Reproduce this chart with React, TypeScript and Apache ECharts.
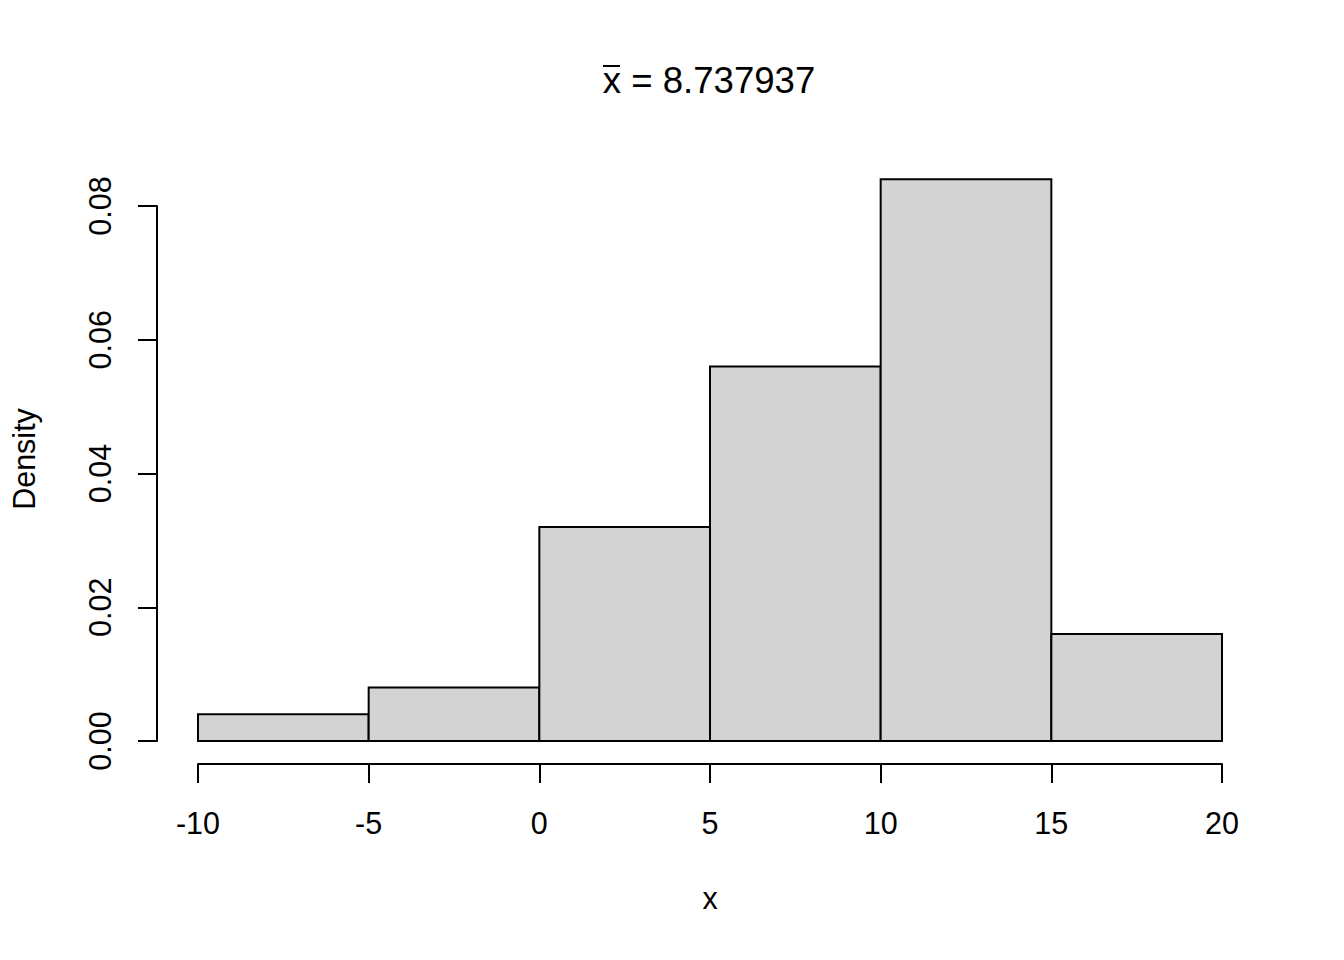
import React, { useEffect, useRef } from "react";
import * as echarts from "echarts";

const binEdges = [-10, -5, 0, 5, 10, 15, 20];
const densities = [0.004, 0.008, 0.032, 0.056, 0.084, 0.016];
const titleText = "x = 8.737937";
const xName = "x";
const yName = "Density";

const FONT = "Liberation Sans, Arial, sans-serif";

export default function App() {
  const ref = useRef<HTMLDivElement>(null);
  useEffect(() => {
    if (!ref.current) return;
    const chart = echarts.init(ref.current, undefined, { renderer: "svg" });
    const data = densities.map((d, i) => [binEdges[i], binEdges[i + 1], d]);
    chart.setOption({
      animation: false,
      backgroundColor: "#ffffff",
      textStyle: { fontFamily: FONT },
      grid: { left: 198, right: 122, top: 206, bottom: 219, containLabel: false },
      xAxis: {
        type: "value",
        min: -10,
        max: 20,
        interval: 5,
        offset: 23,
        axisLine: { show: true, onZero: false, lineStyle: { color: "#000", width: 2 } },
        axisTick: { show: true, length: 19, inside: false, lineStyle: { color: "#000", width: 2 } },
        axisLabel: { color: "#000", fontSize: 30.5, fontFamily: FONT, margin: 43 },
        splitLine: { show: false },
      },
      yAxis: {
        type: "value",
        min: 0,
        max: 0.08,
        interval: 0.02,
        offset: 41,
        axisLine: { show: true, onZero: false, lineStyle: { color: "#000", width: 2 } },
        axisTick: { show: true, length: 19, inside: false, lineStyle: { color: "#000", width: 2 } },
        axisLabel: {
          color: "#000",
          fontSize: 30.5,
          fontFamily: FONT,
          rotate: 90,
          margin: 42,
          formatter: (v: number) => v.toFixed(2),
        },
        splitLine: { show: false },
      },
      graphic: [
        {
          type: "text",
          x: 709,
          y: 80,
          style: {
            text: titleText,
            fontSize: 36.6,
            fontFamily: FONT,
            fill: "#000",
            textAlign: "center",
            textVerticalAlign: "middle",
          },
        },
        {
          type: "line",
          shape: { x1: 603, y1: 66, x2: 620, y2: 66 },
          style: { stroke: "#000", lineWidth: 2 },
        },
        {
          type: "text",
          x: 710,
          y: 898,
          style: {
            text: xName,
            fontSize: 30.5,
            fontFamily: FONT,
            fill: "#000",
            textAlign: "center",
            textVerticalAlign: "middle",
          },
        },
        {
          type: "text",
          x: 24,
          y: 459,
          rotation: Math.PI / 2,
          style: {
            text: yName,
            fontSize: 30.5,
            fontFamily: FONT,
            fill: "#000",
            textAlign: "center",
            textVerticalAlign: "middle",
          },
        },
      ],
      series: [
        {
          type: "custom",
          clip: false,
          data,
          encode: { x: [0, 1], y: 2 },
          renderItem: (params: any, api: any) => {
            const p0 = api.coord([api.value(0), api.value(2)]);
            const p1 = api.coord([api.value(1), 0]);
            return {
              type: "rect",
              shape: { x: p0[0], y: p0[1], width: p1[0] - p0[0], height: p1[1] - p0[1] },
              style: { fill: "#D3D3D3", stroke: "#000", lineWidth: 2 },
            };
          },
        },
      ],
    });
    return () => chart.dispose();
  }, []);
  return (
    <div
      ref={ref}
      style={{ position: "fixed", left: 0, top: 0, width: 1344, height: 960, background: "#fff" }}
    />
  );
}
